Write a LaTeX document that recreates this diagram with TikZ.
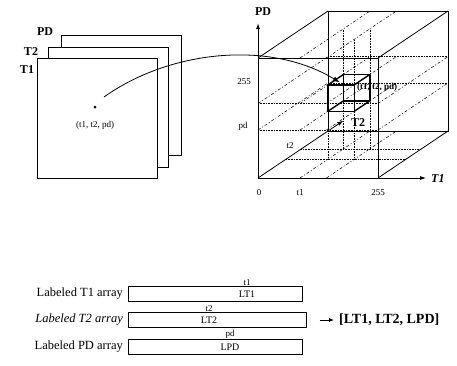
\documentclass[tikz,border=0pt]{standalone}
\usepackage{fontspec}
\setmainfont{Liberation Serif}
\usetikzlibrary{arrows.meta, positioning}

\begin{document}
\begin{tikzpicture}[
			x=1pt, y=-1pt,
			font=\fontsize{10}{12}\selectfont,
			plane/.style={
					draw,
					fill=white,
					line width=0.8pt,
					minimum width=120pt,
					minimum height=120pt,
					inner sep=0pt
				},
			planelabel/.style={
					font=\fontsize{12}{14}\selectfont\bfseries,
					inner sep=0pt
				},
			arraybox/.style={
					draw,
					line width=0.7pt,
					minimum height=15pt,
					inner sep=0pt,
					anchor=west
				},
			arraylabel/.style={
					font=\fontsize{12.5}{14}\selectfont,
					inner sep=0pt,
					anchor=east
				},
			small/.style={
					font=\fontsize{9}{11}\selectfont,
					inner sep=0pt
				},
			cell/.style={
					font=\fontsize{10}{12}\selectfont,
					inner sep=0pt
				},
			cubeline/.style={
					line width=0.8pt
				},
			axisarrow/.style={
					-{Latex[length=6pt,width=4pt]},
					line width=0.8pt
				},
			guide/.style={
					densely dotted,
					line width=0.6pt
				},
			depthguide/.style={
					dash pattern=on 3pt off 2pt on 1pt off 2pt,
					line width=0.5pt
				},
			voxel/.style={
					line width=1.4pt,
					line join=round
				},
			link/.style={
					-{Latex[length=7pt,width=5pt]},
					line width=0.8pt
				}
			]
			\useasboundingbox (0,0) rectangle (457,365);

			% ================= 三幅图像 =================
			\node[plane] (imgPD) at (121,95) {};
			\node[plane] (imgT2) at (108.5,107) {};
			\node[plane] (imgT1) at (97,118.5) {};
			\node[planelabel] (labPD) at (45,32) {PD};
			\node[planelabel] (labT2) at (31,52) {T2};
			\node[planelabel] (labT1) at (27,70) {T1};

			\node[circle, fill, inner sep=0pt, minimum size=3pt] (pix) at (95,107) {};
			\node[small] (pixlab) at (95,125) {(t1, t2, pd)};
			\coordinate (pixout) at (104,97);

			% ================= 三维直方图立方体 =================
			\begin{scope}[shift={(258,178)}, x={(120pt,0pt)}, y={(0pt,120pt)}, z={(70pt,47pt)}]
				% 体素在各面上的投影，虚线
				\foreach \a in {0.35,0.57}
				\foreach \c in {0.4,0.62}
				\draw[guide] (\a,0,\c) -- (\a,1,\c);
				\foreach \b in {0.4,0.62}
				\foreach \c in {0,1}
				\draw[guide] (0,\b,\c) -- (1,\b,\c);
				\foreach \c in {0.4,0.62}
				\draw[guide] (0,0,\c) -- (1,0,\c);
				\foreach \a in {0,0.35,0.57,1}
				\foreach \b in {0.4,0.62}
				\draw[depthguide] (\a,\b,0) -- (\a,\b,1);
				\foreach \a in {0.35,0.57}
				\foreach \b in {0,1}
				\draw[depthguide] (\a,\b,0) -- (\a,\b,1);

				% 立方体棱
				\draw[cubeline] (0,1,0) -- (1,1,0) -- (1,0,0);
				\draw[cubeline] (0,0,1) -- (0,1,1) -- (1,1,1) -- (1,0,1) -- cycle;
				\draw[cubeline] (0,1,0) -- (0,1,1);
				\draw[cubeline] (1,1,0) -- (1,1,1);
				\draw[cubeline] (1,0,0) -- (1,0,1);

				% 坐标轴
				\coordinate (O) at (0,0,0);
				\coordinate (endPD) at (0,1.29,0);
				\coordinate (endT1) at (1.4,0,0);
				\coordinate (endT2) at (0,0,1.22);
				\draw[axisarrow] (O) -- (endPD);
				\draw[axisarrow] (O) -- (endT1);
				\draw[axisarrow] (O) -- (endT2);

				% 体素
				\draw[voxel] (0.35,0.4,0.4) -- (0.57,0.4,0.4) -- (0.57,0.62,0.4) -- (0.35,0.62,0.4) -- cycle;
				\draw[voxel] (0.35,0.4,0.62) -- (0.57,0.4,0.62) -- (0.57,0.62,0.62) -- (0.35,0.62,0.62) -- cycle;
				\foreach \a/\b in {0.35/0.4, 0.57/0.4, 0.57/0.62, 0.35/0.62}
				\draw[voxel] (\a,\b,0.4) -- (\a,\b,0.62);
				\coordinate (voxtop) at (0.42,0.62,0.45);
			\end{scope}

			% 坐标轴标注
			\node[planelabel, anchor=south] (axPD) at (263,16) {PD};
			\node[planelabel, anchor=west] (axT1) at (431,179) {\itshape T1};
			\node[planelabel, anchor=west] (axT2) at (351,123) {T2};
			\node[small] (max2) at (244,82) {255};
			\node[small] (valpd) at (243,126) {pd};
			\node[small] (valt2) at (290,146) {t2};
			\node[small] (zero) at (259,193) {0};
			\node[small] (valt1) at (300,193) {t1};
			\node[small] (max1) at (378,193) {255};
			\node[small, anchor=west, font=\fontsize{9}{11}\selectfont\bfseries] (voxlab) at (357,87) {(t1, t2, pd)};

			% 像素到体素
			\draw[link] (pixout) .. controls (170,50) and (270,40) .. (voxtop);

			% ================= 标记数组 =================
			\node[arraybox, minimum width=174pt] (arrT1) at (128,294) {};
			\node[arraybox, minimum width=178pt] (arrT2) at (128,320) {};
			\node[arraybox, minimum width=174pt] (arrPD) at (128,347) {};

			\node[arraylabel, left=5pt of arrT1] (nameT1) {Labeled T1 array};
			\node[arraylabel, left=5pt of arrT2] (nameT2) {\itshape Labeled T2 array};
			\node[arraylabel, left=5pt of arrPD] (namePD) {Labeled PD array};

			\node[cell] (cellT1) at (247,294) {LT1};
			\node[cell] (cellT2) at (209,320) {LT2};
			\node[cell] (cellPD) at (230,347) {LPD};
			\node[small, above=5pt of cellT1] (idxT1) {t1};
			\node[small, above=5pt of cellT2] (idxT2) {t2};
			\node[small, above=5pt of cellPD] (idxPD) {pd};

			\node[anchor=west, inner sep=0pt, font=\fontsize{14}{16}\selectfont\bfseries] (triple) at (339,320) {[LT1, LT2, LPD]};
			\draw[-{Latex[length=5pt,width=4pt]}, line width=0.8pt] ([xshift=13pt]arrT2.east) -- ([xshift=-5pt]triple.west);

		\end{tikzpicture}
\end{document}
